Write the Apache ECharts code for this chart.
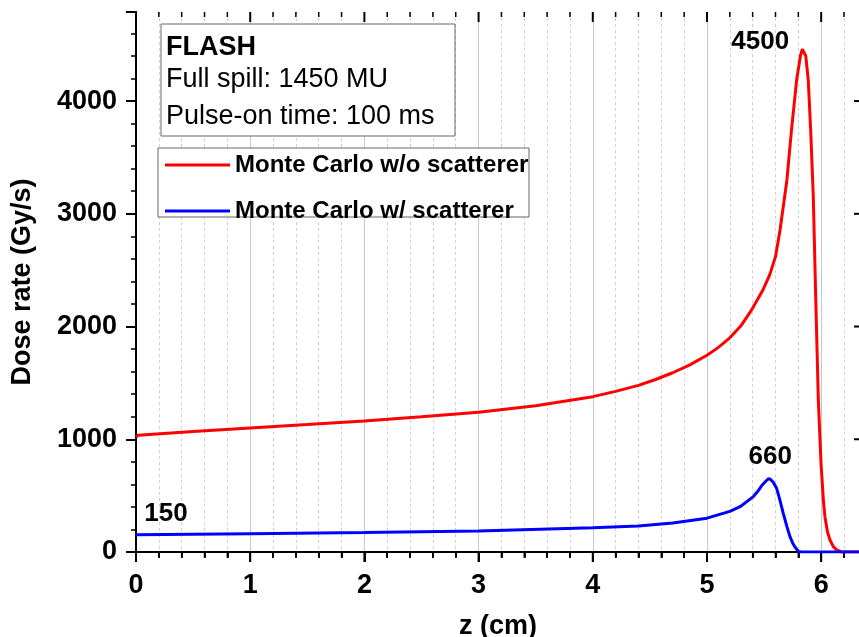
<!DOCTYPE html>
<html>
<head>
<meta charset="utf-8">
<script src="https://cdn.jsdelivr.net/npm/echarts@6/dist/echarts.min.js"></script>
<style>
  html, body { margin: 0; padding: 0; background: #fff; }
  #chart { width: 859px; height: 637px; }
</style>
</head>
<body>
<div id="chart"></div>
<script>
// depth in cm, dose rate in Gy/s
var redZ    = [0, 0.02, 0.5, 1, 1.5, 2, 2.5, 3, 3.5, 4, 4.2, 4.4, 4.55, 4.7, 4.85, 5, 5.1, 5.2, 5.3, 5.39, 5.49, 5.55, 5.6, 5.64, 5.7, 5.74, 5.785, 5.82, 5.835, 5.843, 5.852, 5.865, 5.887, 5.908, 5.931, 5.952, 5.975, 6.0, 6.02, 6.033, 6.055, 6.077, 6.105, 6.136, 6.18, 6.34];
var redRate = [1020, 1035, 1068, 1100, 1130, 1163, 1200, 1240, 1297, 1378, 1425, 1478, 1530, 1590, 1660, 1745, 1815, 1900, 2010, 2146, 2324, 2460, 2620, 2856, 3300, 3743, 4186, 4410, 4460, 4470, 4460, 4400, 4186, 3743, 3151, 2264, 1348, 760, 450, 313, 180, 106, 50, 18, 0, 0];

var blueZ    = [0, 1, 2, 3, 4, 4.4, 4.7, 5, 5.2, 5.29, 5.406, 5.45, 5.48, 5.515, 5.537, 5.555, 5.58, 5.61, 5.64, 5.668, 5.7, 5.727, 5.75, 5.77, 5.8, 5.83, 6.34];
var blueRate = [152, 162, 172, 187, 215, 230, 258, 300, 360, 402, 491, 545, 590, 628, 650, 645, 618, 565, 455, 343, 225, 136, 80, 45, 5, 0, 0];

var seriesNames = ['Monte Carlo w/o scatterer', 'Monte Carlo w/ scatterer'];
var infoLines = ['FLASH', 'Full spill: 1450 MU', 'Pulse-on time: 100 ms'];

// peak labels: [z, rate, text]
var redMarks  = [[5.843, 4470, '4500']];
var blueMarks = [[5.537, 650, '660'], [0, 152, '150']];

// axis ranges and tick positions
var xMin = 0, xMax = 6.34, yMin = 0, yMax = 4790;
var xMajorTicks = [0, 1, 2, 3, 4, 5, 6];
var xMinorTicks = [0.2, 0.4, 0.6, 0.8, 1.2, 1.4, 1.6, 1.8, 2.2, 2.4, 2.6, 2.8, 3.2, 3.4, 3.6, 3.8,
                   4.2, 4.4, 4.6, 4.8, 5.2, 5.4, 5.6, 5.8, 6.2];
var yMajorTicks = [0, 1000, 2000, 3000, 4000];

function zip(xs, ys) {
    var out = [];
    for (var i = 0; i < xs.length; i++) {
        out.push([xs[i], ys[i]]);
    }
    return out;
}

var FONT = 'Liberation Sans, Arial, sans-serif';
var labelOffsets = { '4500': [-43, -6], '660': [2, -22], '150': [30, -21] };

function marks(list) {
    return list.map(function (m) {
        return {
            coord: [m[0], m[1]],
            value: m[2],
            label: { offset: labelOffsets[m[2]] }
        };
    });
}

// tick marks drawn as short lines from a point on the frame
function tickSeries(points, dx, dy, width) {
    return {
        type: 'custom',
        coordinateSystem: 'cartesian2d',
        silent: true,
        clip: false,
        z: 3,
        data: points,
        renderItem: function (params, api) {
            var p = api.coord([api.value(0), api.value(1)]);
            return {
                type: 'line',
                shape: { x1: p[0], y1: p[1], x2: p[0] + dx, y2: p[1] + dy },
                style: { stroke: '#000', lineWidth: width }
            };
        }
    };
}

var myChart = echarts.init(document.getElementById('chart'), null, { renderer: 'canvas' });

var markStyle = {
    symbol: 'circle',
    symbolSize: 1,
    itemStyle: { color: 'rgba(0,0,0,0)' },
    label: {
        show: true,
        position: 'inside',
        formatter: '{c}',
        color: '#000',
        fontFamily: FONT,
        fontWeight: 'bold',
        fontSize: 26
    }
};

var option = {
    animation: false,
    backgroundColor: '#fff',
    grid: { left: 136, top: 12, width: 724, height: 540, outerBoundsMode: 'none', containLabel: false },
    legend: {
        data: seriesNames,
        orient: 'vertical',
        left: 158,
        top: 148,
        icon: 'rect',
        itemWidth: 65,
        itemHeight: 3,
        itemGap: 22,
        padding: [5, 3, 0, 7],
        borderWidth: 0,
        z: 6,
        textStyle: { fontFamily: FONT, fontWeight: 'bold', fontSize: 24, color: '#000' }
    },
    xAxis: [
        {
            type: 'value',
            position: 'bottom',
            min: xMin,
            max: xMax,
            interval: 1,
            name: 'z (cm)',
            nameLocation: 'middle',
            nameGap: 61,
            nameTextStyle: { fontFamily: FONT, fontWeight: 'bold', fontSize: 27, color: '#000' },
            axisLine: { show: true, lineStyle: { color: '#000', width: 2 } },
            axisTick: { show: true, length: 10, lineStyle: { color: '#000', width: 2 } },
            minorTick: { show: true, splitNumber: 5, length: 6, lineStyle: { color: '#000', width: 1.5 } },
            axisLabel: { margin: 20, showMaxLabel: false, fontFamily: FONT, fontWeight: 'bold', fontSize: 27, color: '#000' },
            splitLine: { show: false }
        },
        {
            type: 'value',
            position: 'top',
            min: xMin,
            max: xMax,
            interval: 1,
            axisLine: { show: true, lineStyle: { color: '#000', width: 2 } },
            axisTick: { show: true, inside: true, length: 10, lineStyle: { color: '#000', width: 2 } },
            minorTick: { show: true, splitNumber: 5, length: 5, lineStyle: { color: '#000', width: 1.5 } },
            axisLabel: { show: false },
            splitLine: { show: true, lineStyle: { color: '#c8c8c8', width: 1 } },
            minorSplitLine: { show: true, lineStyle: { color: '#d0d0d0', width: 1, type: [3, 3] } }
        }
    ],
    yAxis: [
        {
            type: 'value',
            min: yMin,
            max: yMax,
            interval: 1000,
            name: 'Dose rate (Gy/s)',
            nameLocation: 'middle',
            nameGap: 100,
            nameTextStyle: { fontFamily: FONT, fontWeight: 'bold', fontSize: 27, color: '#000' },
            axisLine: { show: true, lineStyle: { color: '#000', width: 2 } },
            axisTick: { show: true, length: 10, lineStyle: { color: '#000', width: 2 } },
            minorTick: { show: true, splitNumber: 5, length: 5, lineStyle: { color: '#000', width: 1.5 } },
            axisLabel: {
                margin: 19, showMaxLabel: false, fontFamily: FONT, fontWeight: 'bold', fontSize: 27, color: '#000',
                formatter: function (v) { return String(v); }
            },
            splitLine: { show: false }
        },
        {
            type: 'value',
            position: 'right',
            min: yMin,
            max: yMax,
            interval: 1000,
            axisLine: { show: true, lineStyle: { color: '#000', width: 2 } },
            axisTick: { show: true, inside: true, length: 6, lineStyle: { color: '#000', width: 2 } },
            axisLabel: { show: false },
            splitLine: { show: false }
        }
    ],
    graphic: [
        {
            type: 'rect',
            shape: { x: 161, y: 24, width: 294, height: 112 },
            style: { fill: '#fff', stroke: '#666', lineWidth: 1 },
            z: 5
        },
        {
            type: 'rect',
            shape: { x: 158, y: 148, width: 371, height: 69 },
            style: { fill: '#fff', stroke: '#666', lineWidth: 1 },
            z: 5
        },
        {
            type: 'text', x: 166, y: 48, z: 6,
            style: { text: infoLines[0], font: 'bold 27px ' + FONT, fill: '#000', verticalAlign: 'middle' }
        },
        {
            type: 'text', x: 166, y: 80, z: 6,
            style: { text: infoLines[1], font: '27px ' + FONT, fill: '#000', verticalAlign: 'middle' }
        },
        {
            type: 'text', x: 166, y: 117, z: 6,
            style: { text: infoLines[2], font: '27px ' + FONT, fill: '#000', verticalAlign: 'middle' }
        }
    ],
    series: [
        {
            name: seriesNames[0],
            type: 'line',
            data: zip(redZ, redRate),
            showSymbol: false,
            symbol: 'none',
            smooth: false,
            color: '#ff0000',
            lineStyle: { color: '#ff0000', width: 3 },
            markPoint: Object.assign({ data: marks(redMarks) }, markStyle)
        },
        {
            name: seriesNames[1],
            type: 'line',
            data: zip(blueZ, blueRate),
            showSymbol: false,
            symbol: 'none',
            smooth: false,
            color: '#0000ff',
            lineStyle: { color: '#0000ff', width: 3 },
            markPoint: Object.assign({ data: marks(blueMarks) }, markStyle)
        },
        tickSeries(xMajorTicks.map(function (v) { return [v, yMin]; }), 0, 10, 2),
        tickSeries(xMinorTicks.map(function (v) { return [v, yMin]; }), 0, 6, 1.5),
        tickSeries(xMajorTicks.map(function (v) { return [v, yMax]; }), 0, 10, 2),
        tickSeries(xMinorTicks.map(function (v) { return [v, yMax]; }), 0, 5, 1.5),
        tickSeries(yMajorTicks.map(function (v) { return [xMax, v]; }), -6, 0, 2)
    ]
};
myChart.setOption(option);
</script>
</body>
</html>
